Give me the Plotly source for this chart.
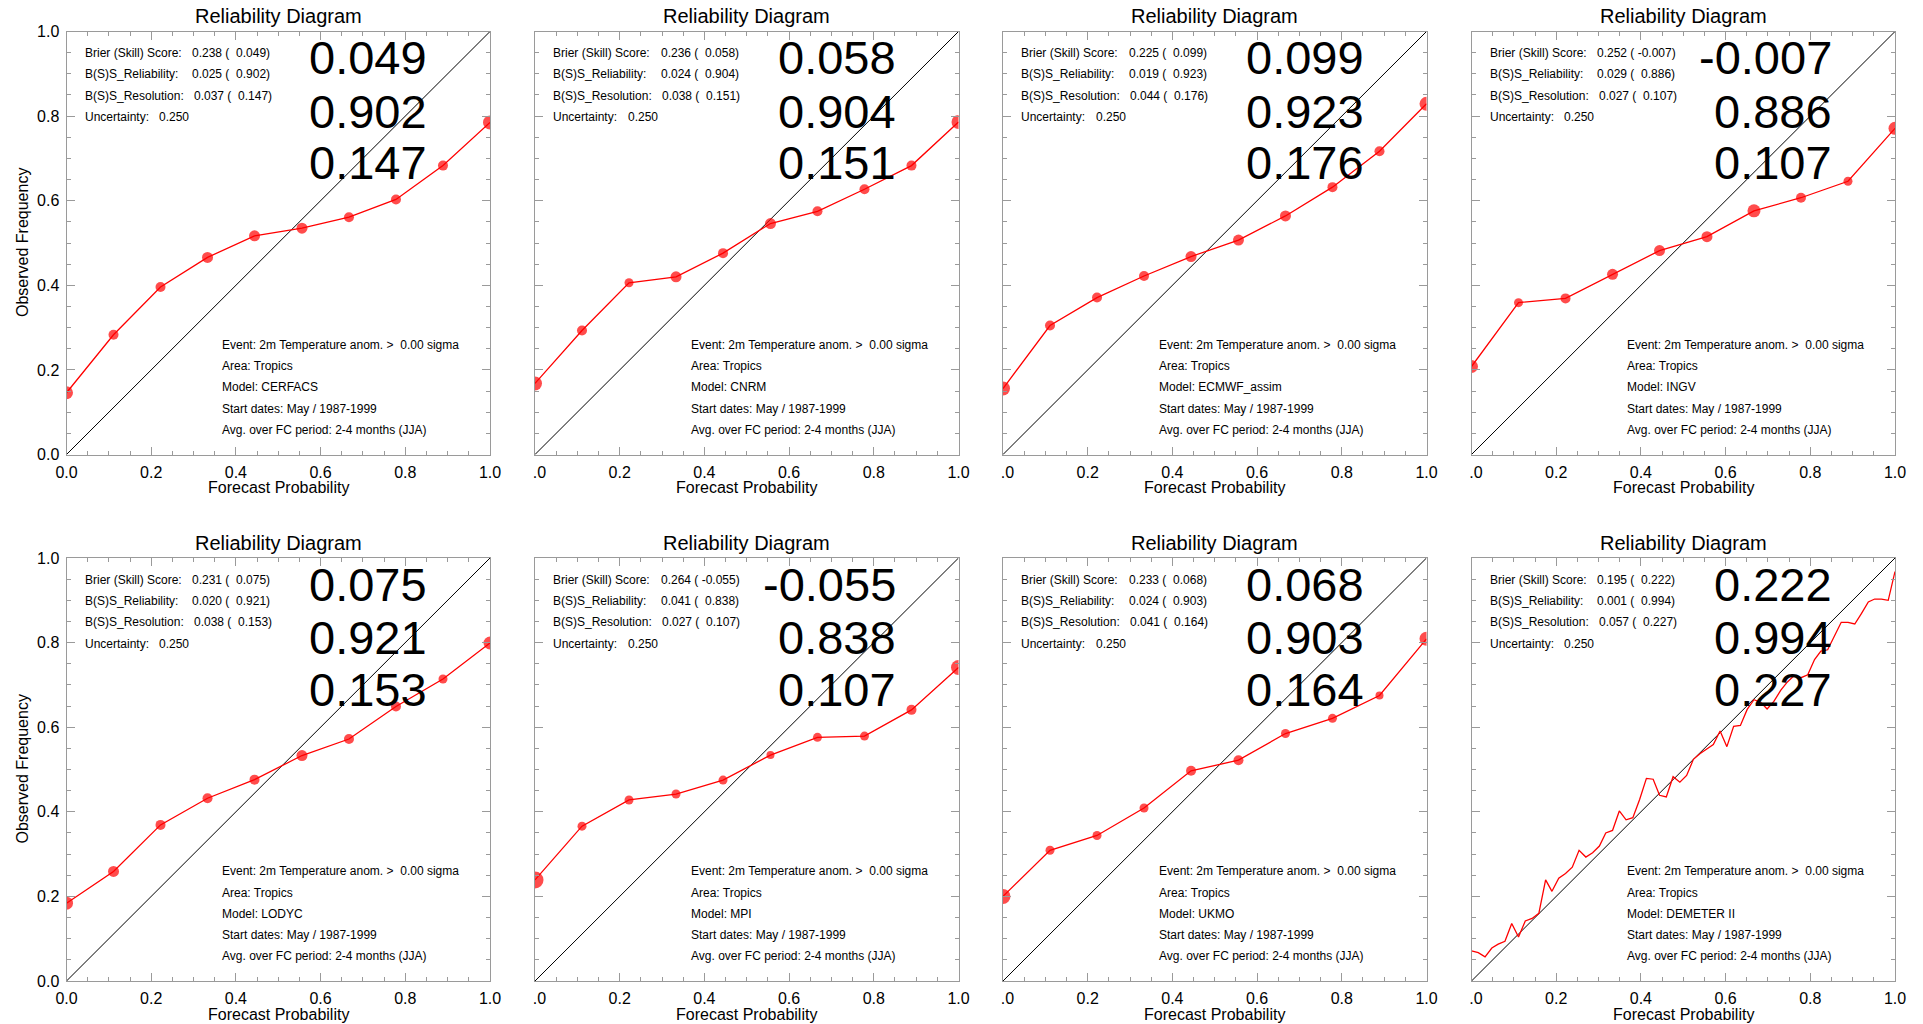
import plotly.graph_objects as go

# ---------------- data ----------------
models = ["CERFACS", "CNRM", "ECMWF_assim", "INGV", "LODYC", "MPI", "UKMO", "DEMETER II"]
brier = [0.238, 0.236, 0.225, 0.252, 0.231, 0.264, 0.233, 0.195]
brier_ss = [0.049, 0.058, 0.099, -0.007, 0.075, -0.055, 0.068, 0.222]
reliab = [0.025, 0.024, 0.019, 0.029, 0.020, 0.041, 0.024, 0.001]
reliab_ss = [0.902, 0.904, 0.923, 0.886, 0.921, 0.838, 0.903, 0.994]
resol = [0.037, 0.038, 0.044, 0.027, 0.038, 0.027, 0.041, 0.057]
resol_ss = [0.147, 0.151, 0.176, 0.107, 0.153, 0.107, 0.164, 0.227]
uncertainty = 0.250

prob9 = [0.0, 0.111, 0.222, 0.333, 0.444, 0.556, 0.667, 0.778, 0.889, 1.0]
obs_cerfacs = [0.146, 0.283, 0.396, 0.466, 0.517, 0.535, 0.561, 0.603, 0.683, 0.785]
obs_cnrm = [0.168, 0.293, 0.406, 0.420, 0.476, 0.546, 0.575, 0.627, 0.683, 0.786]
obs_ecmwf = [0.156, 0.305, 0.371, 0.422, 0.468, 0.507, 0.564, 0.632, 0.717, 0.829]
obs_ingv = [0.208, 0.359, 0.369, 0.426, 0.482, 0.515, 0.576, 0.607, 0.646, 0.771]
obs_lodyc = [0.184, 0.259, 0.369, 0.432, 0.476, 0.533, 0.572, 0.649, 0.714, 0.799]
obs_mpi = [0.239, 0.366, 0.428, 0.442, 0.475, 0.534, 0.576, 0.579, 0.641, 0.741]
obs_ukmo = [0.200, 0.309, 0.344, 0.409, 0.497, 0.522, 0.585, 0.621, 0.675, 0.809]

size_cerfacs = [13, 10, 10, 11, 11, 11, 10, 10, 10, 14]
size_cnrm = [14, 10, 9, 11, 10, 11, 10, 10, 10, 14]
size_ecmwf = [14, 10, 10, 10, 11, 11, 11, 10, 10, 14]
size_ingv = [13, 9, 10, 11, 11, 11, 13, 10, 9, 13]
size_lodyc = [13, 11, 10, 10, 10, 11, 10, 10, 9, 13]
size_mpi = [17, 9, 9, 9, 9, 8, 9, 9, 10, 15]
size_ukmo = [15, 9, 9, 9, 10, 10, 9, 9, 8, 14]

prob63 = [0.000, 0.016, 0.032, 0.048, 0.063, 0.079, 0.095, 0.111, 0.127, 0.143,
          0.159, 0.175, 0.190, 0.206, 0.222, 0.238, 0.254, 0.270, 0.286, 0.302,
          0.317, 0.333, 0.349, 0.365, 0.381, 0.397, 0.413, 0.429, 0.444, 0.460,
          0.476, 0.492, 0.508, 0.524, 0.540, 0.556, 0.571, 0.587, 0.603, 0.619,
          0.635, 0.651, 0.667, 0.683, 0.698, 0.714, 0.730, 0.746, 0.762, 0.778,
          0.794, 0.810, 0.825, 0.841, 0.857, 0.873, 0.889, 0.905, 0.921, 0.937,
          0.952, 0.968, 0.984, 1.000]
obs_demeter = [0.071, 0.067, 0.057, 0.078, 0.087, 0.094, 0.136, 0.104, 0.142, 0.148,
               0.160, 0.239, 0.212, 0.243, 0.254, 0.269, 0.309, 0.293, 0.303, 0.319,
               0.350, 0.356, 0.402, 0.381, 0.386, 0.429, 0.479, 0.477, 0.439, 0.435,
               0.483, 0.470, 0.486, 0.524, 0.538, 0.549, 0.559, 0.591, 0.554, 0.602,
               0.604, 0.642, 0.665, 0.659, 0.643, 0.661, 0.687, 0.707, 0.722, 0.717,
               0.724, 0.760, 0.780, 0.783, 0.815, 0.848, 0.848, 0.844, 0.869, 0.896,
               0.903, 0.903, 0.900, 0.968]

series_x = [prob9] * 7 + [prob63]
series_y = [obs_cerfacs, obs_cnrm, obs_ecmwf, obs_ingv, obs_lodyc, obs_mpi, obs_ukmo, obs_demeter]
series_size = [size_cerfacs, size_cnrm, size_ecmwf, size_ingv, size_lodyc, size_mpi, size_ukmo, None]

tick_vals = [0.0, 0.2, 0.4, 0.6, 0.8, 1.0]
tick_text = ["0.0", "0.2", "0.4", "0.6", "0.8", "1.0"]
minor_vals = [0.05, 0.10, 0.15, 0.25, 0.30, 0.35, 0.45, 0.50, 0.55,
              0.65, 0.70, 0.75, 0.85, 0.90, 0.95]

info_lines = ["Event: 2m Temperature anom. >  0.00 sigma", "Area: Tropics", "Model: {m}",
              "Start dates: May / 1987-1999", "Avg. over FC period: 2-4 months (JJA)"]

# ---------------- layout geometry ----------------
W, H = 1923, 1024
col_left = [66.5, 535.0, 1003.0, 1471.5]
row_top = [31.5, 558.0]
PW, PH = 423.5, 423.0
FONT = "Liberation Sans, Arial, Helvetica, sans-serif"
GREY = "#9a9a9a"
NB = "\u00a0"

fig = go.Figure()
annotations = []
layout_axes = {}

for i in range(8):
    r, c = divmod(i, 4)
    n = i + 1
    sfx = "" if n == 1 else str(n)
    L, T = col_left[c], row_top[r]
    xd = [L / W, (L + PW) / W]
    yd = [1 - (T + PH) / H, 1 - T / H]
    xr, yr = "x" + sfx, "y" + sfx

    # diagonal
    fig.add_trace(go.Scatter(x=[0, 1], y=[0, 1], mode="lines", xaxis=xr, yaxis=yr,
                             line=dict(color="black", width=1), showlegend=False,
                             hoverinfo="skip"))
    # reliability curve
    if series_size[i] is not None:
        fig.add_trace(go.Scatter(x=series_x[i], y=series_y[i], mode="lines+markers",
                                 xaxis=xr, yaxis=yr, showlegend=False,
                                 line=dict(color="#ff0000", width=1.3),
                                 marker=dict(color="#ff0000", size=series_size[i],
                                             line=dict(width=0))))
    else:
        fig.add_trace(go.Scatter(x=series_x[i], y=series_y[i], mode="lines",
                                 xaxis=xr, yaxis=yr, showlegend=False,
                                 line=dict(color="#ff0000", width=1.3)))

    if c == 0:
        xt = tick_text
    else:
        xt = ['<span style="color:white">0</span>.0'] + tick_text[1:]

    common = dict(range=[0, 1], showline=True, linecolor=GREY, linewidth=1,
                  mirror="ticks", ticks="inside", ticklen=8, tickwidth=1,
                  tickcolor=GREY, showgrid=False, zeroline=False, automargin=False,
                  tickmode="array", tickvals=tick_vals,
                  minor=dict(tickmode="array", tickvals=minor_vals, ticks="inside",
                             ticklen=4, tickcolor=GREY, tickwidth=1, showgrid=False),
                  tickfont=dict(family=FONT, size=16, color="black"))
    layout_axes["xaxis" + sfx] = dict(common, domain=xd, anchor=yr, ticktext=xt,
                                      ticklabelstandoff=3)
    layout_axes["yaxis" + sfx] = dict(common, domain=yd, anchor=xr, ticktext=tick_text,
                                      showticklabels=(c == 0), ticklabelstandoff=3)

    # titles
    annotations.append(dict(text="Reliability Diagram", xref="paper", yref="paper",
                            x=(L + PW / 2) / W, y=1 - (T - 15.5) / H, xanchor="center",
                            yanchor="middle", showarrow=False,
                            font=dict(family=FONT, size=20, color="black")))
    annotations.append(dict(text="Forecast Probability", xref="paper", yref="paper",
                            x=(L + PW / 2) / W, y=1 - (T + PH + 33) / H, xanchor="center",
                            yanchor="middle", showarrow=False,
                            font=dict(family=FONT, size=16, color="black")))
    if c == 0:
        annotations.append(dict(text="Observed Frequency", xref="paper", yref="paper",
                                x=22 / W, y=1 - (T + PH / 2) / H, xanchor="center",
                                yanchor="middle", textangle=-90, showarrow=False,
                                font=dict(family=FONT, size=16, color="black")))

    # score block
    small = dict(family=FONT, size=12, color="black")
    labels = ["Brier (Skill) Score:", "B(S)S_Reliability:", "B(S)S_Resolution:", "Uncertainty:"]
    values = [f"{brier[i]:.3f} ({brier_ss[i]:7.3f})",
              f"{reliab[i]:.3f} ({reliab_ss[i]:7.3f})",
              f"{resol[i]:.3f} ({resol_ss[i]:7.3f})",
              f"{uncertainty:.3f}"]
    val_x = [123.5, 123.5, 125.0, 90.6]
    for k in range(4):
        yy = 1 - (21.6 + 21.3 * k) / PH
        annotations.append(dict(text=labels[k], xref=xr, yref=yr, x=16.3 / PW, y=yy,
                                xanchor="left", yanchor="middle", showarrow=False, font=small))
        annotations.append(dict(text=values[k].replace(" ", NB), xref=xr, yref=yr,
                                x=val_x[k] / PW, y=yy, xanchor="left", yanchor="middle",
                                showarrow=False, font=small))

    # big numbers
    big_vals = [brier_ss[i], reliab_ss[i], resol_ss[i]]
    big_y = [26.0, 79.5, 131.0]
    for k in range(3):
        annotations.append(dict(text=f"{big_vals[k]:.3f}", xref=xr, yref=yr,
                                x=0.857, y=1 - big_y[k] / PH, xanchor="right",
                                yanchor="middle", showarrow=False,
                                font=dict(family=FONT, size=47, color="black")))

    # info block
    for k, line in enumerate(info_lines):
        annotations.append(dict(text=line.format(m=models[i]).replace("  ", NB + NB),
                                xref=xr, yref=yr, x=153.5 / PW,
                                y=1 - (313.3 + 21.25 * k) / PH, xanchor="left",
                                yanchor="middle", showarrow=False, font=small))

fig.update_layout(template="none", width=W, height=H,
                  margin=dict(l=0, r=0, t=0, b=0, pad=0, autoexpand=False),
                  paper_bgcolor="white", plot_bgcolor="white",
                  font=dict(family=FONT, color="black"),
                  annotations=annotations, showlegend=False, **layout_axes)

# remove the browser's default 8px body margin so the figure sits at the page corner
fig.write_html("out.html",
               config={"displayModeBar": False},
               post_script="document.body.style.margin='0px';"
                           "document.body.style.overflow='hidden';")
